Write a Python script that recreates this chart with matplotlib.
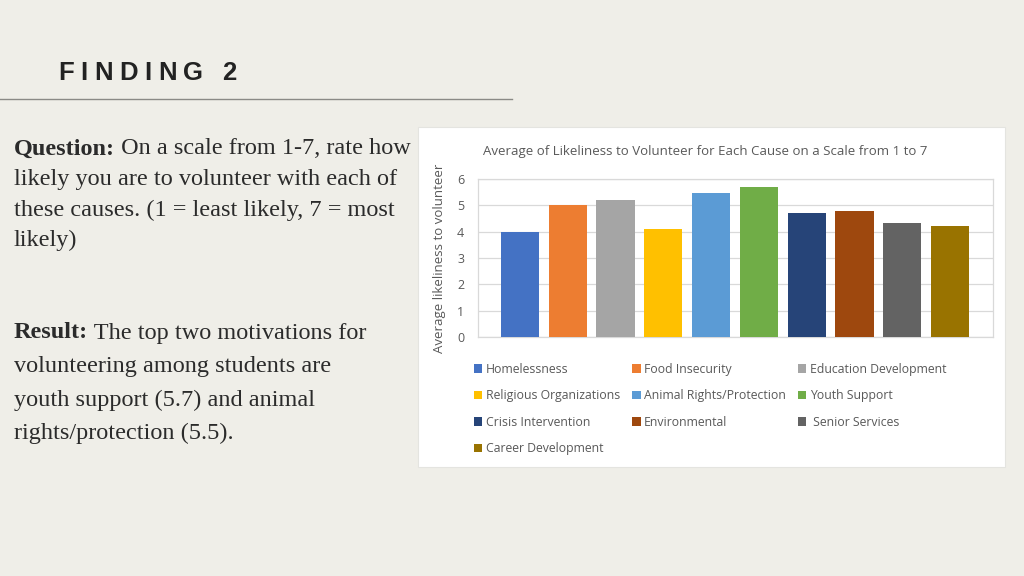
import matplotlib

matplotlib.use("Agg")
import matplotlib.pyplot as plt
from matplotlib.patches import Rectangle, Patch
from matplotlib.lines import Line2D

causes = [
    "Homelessness",
    "Food Insecurity",
    "Education Development",
    "Religious Organizations",
    "Animal Rights/Protection",
    "Youth Support",
    "Crisis Intervention",
    "Environmental",
    " Senior Services",
    "Career Development",
]
averages = [4.0, 5.0, 5.2, 4.1, 5.45, 5.7, 4.72, 4.77, 4.32, 4.23]
colors = [
    "#4472C4", "#ED7D31", "#A5A5A5", "#FFC000", "#5B9BD5",
    "#70AD47", "#264478", "#9E480E", "#636363", "#997300",
]
y_ticks = [0, 1, 2, 3, 4, 5, 6]

BG = "#EFEEE8"
GRAY_TXT = "#595959"
DARK = "#2b2b2b"

fig = plt.figure(figsize=(10.24, 5.76), dpi=100, facecolor=BG)
fig.canvas.draw()
renderer = fig.canvas.get_renderer()

# slide header, letter-spaced by hand
hx = 58.0
for ch in "FINDING 2":
    t = fig.text(hx / 1024, 1 - 73 / 576, ch, fontsize=18.5, fontweight="bold",
                 family="Liberation Sans", color="#222222", va="center")
    w = t.get_window_extent(renderer).width
    if ch == " ":
        w = 5
    hx += w + 6.6
fig.add_artist(Line2D([0, 512 / 1024], [1 - 99 / 576] * 2, color="#8a8a86", lw=1))

# left text block
serif = "Liberation Serif"
lines_q = [
    ("Question:", " On a scale from 1-7, rate how"),
    ("", "likely you are to volunteer with each of"),
    ("", "these causes. (1 = least likely, 7 = most"),
    ("", "likely)"),
]
lines_r = [
    ("Result:", " The top two motivations for"),
    ("", "volunteering among students are"),
    ("", "youth support (5.7) and animal"),
    ("", "rights/protection (5.5)."),
]


def draw_block(lines, y0, step):
    for i, (bold, rest) in enumerate(lines):
        y = 1 - (y0 + i * step) / 576
        x = 14 / 1024
        if bold:
            t = fig.text(x, y, bold, fontsize=17.5, fontweight="bold", family=serif,
                         color=DARK, va="center")
            x = t.get_window_extent(renderer).x1 / 1024
        fig.text(x, y, rest, fontsize=17.5, family=serif, color=DARK, va="center")


draw_block(lines_q, 149, 30.5)
draw_block(lines_r, 333, 33.5)

# white chart panel
fig.add_artist(Rectangle((418 / 1024, 1 - 467 / 576), 587 / 1024, 340 / 576,
                         transform=fig.transFigure, facecolor="white",
                         edgecolor="#e4e4e0", lw=0.8, zorder=0))

ax = fig.add_axes([478 / 1024, 1 - 337 / 576, 515 / 1024, 158 / 576])
ax.set_facecolor("white")
x = list(range(len(causes)))
bars = ax.bar(x, averages, width=0.8, color=colors, zorder=3)
ax.set_xlim(-0.88, 9.9)
ax.set_ylim(0, 6)
ax.set_yticks(y_ticks)
ax.set_xticks([])
ax.tick_params(axis="y", length=0, labelsize=9, labelcolor=GRAY_TXT, pad=10)
ax.grid(axis="y", color="#D9D9D9", lw=0.9, zorder=0)
for s in ax.spines.values():
    s.set_color("#D9D9D9")
    s.set_linewidth(0.9)
ax.set_ylabel("Average likeliness to volunteer", fontsize=9.5, color=GRAY_TXT,
              family="Open Sans", labelpad=8)
for lbl in ax.get_yticklabels():
    lbl.set_family("Open Sans")

fig.text(705 / 1024, 1 - 151 / 576,
         "Average of Likeliness to Volunteer for Each Cause on a Scale from 1 to 7",
         fontsize=9.5, color=GRAY_TXT, family="Open Sans", ha="center", va="center")

# legend, filled row by row
order = [0, 3, 6, 9, 1, 4, 7, 2, 5, 8]
handles = [Patch(facecolor=colors[i], edgecolor="none") for i in order]
labels = [causes[i] for i in order]
leg = fig.legend(handles, labels, ncol=3, loc="upper left",
                 bbox_to_anchor=(469 / 1024, 1 - 358 / 576), frameon=False,
                 prop={"family": "Open Sans", "size": 8.8}, labelcolor=GRAY_TXT,
                 handlelength=0.7, handleheight=0.7, handletextpad=0.3,
                 columnspacing=0.95, labelspacing=1.1, borderaxespad=0)

fig.savefig("out.png", dpi=100, facecolor=BG)
